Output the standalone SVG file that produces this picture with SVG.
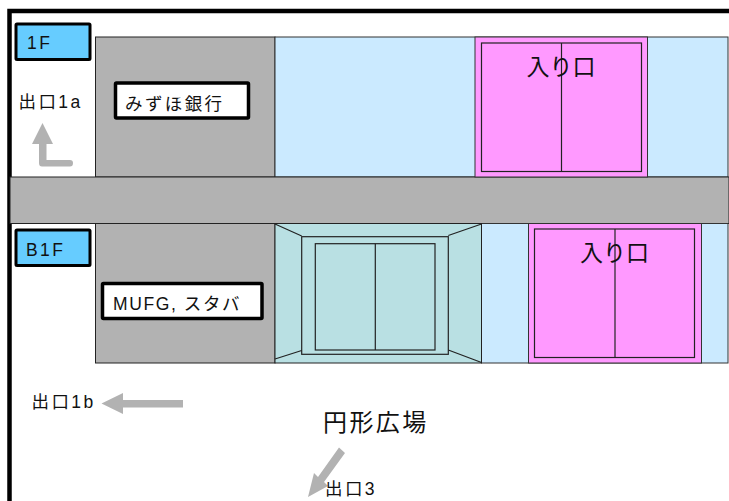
<svg xmlns="http://www.w3.org/2000/svg" width="729" height="501" viewBox="0 0 729 501">
<style>
text{font-family:"Liberation Sans","Noto Sans CJK JP",sans-serif;fill:#111}
.t14{font-size:17.500px;letter-spacing:2.400px}
.t23{font-size:23px}
.t24{font-size:24px;letter-spacing:2.400px}
.g{fill:#b2b2b2;stroke:#222;stroke-width:1}
.b{fill:#cbeaff;stroke:#333;stroke-width:1}
.p{fill:#ff99ff;stroke:#333;stroke-width:1}
.tl{fill:#b9e0e3;stroke:#222;stroke-width:1}
.lb{fill:none;stroke:#222;stroke-width:1.200}
.tag{fill:#66ccff;stroke:#000;stroke-width:3}
.lab{fill:#fff;stroke:#000;stroke-width:3.500}
.ar{fill:#b2b2b2;stroke:none}
</style>
<rect width="729" height="501" fill="#fff"/>
<path id="frame" d="M9.500 501V11H729" fill="none" stroke="#000" stroke-width="4.500"/>
<g id="floor-1f">
<rect class="g" x="95.500" y="37" width="179.500" height="140"/>
<rect class="b" x="275" y="37" width="453" height="140"/>
</g>
<rect id="road" class="g" x="10" y="177" width="719" height="46.500"/>
<g id="floor-b1f">
<rect class="g" x="95.500" y="223.500" width="179.500" height="139.500"/>
<rect class="b" x="481.500" y="223.500" width="246.500" height="139.500"/>
</g>
<g id="tag-1f"><rect class="tag" x="16" y="24" width="74" height="35.500" rx="1"/><text class="t14" x="27" y="49">1F</text></g>
<g id="tag-b1f"><rect class="tag" x="16" y="230" width="74" height="35.500" rx="1"/><text class="t14" x="26" y="256">B1F</text></g>
<g id="label-mizuho"><rect class="lab" x="115.500" y="83" width="133" height="35" rx="1"/><text class="t14" x="125" y="109.500">みずほ銀行</text></g>
<g id="label-mufg"><rect class="lab" x="102.500" y="283.500" width="159.500" height="35" rx="1"/><text class="t14" x="113" y="309.500" style="letter-spacing:1.600px">MUFG, スタバ</text></g>
<g id="entrance-1f">
<rect class="p" x="475" y="37" width="172.500" height="140"/>
<rect class="lb" x="481.500" y="43" width="160" height="128.500"/>
<path class="lb" d="M561.500 43V171.500"/>
<text class="t23" x="526.500" y="75">入り口</text>
</g>
<g id="entrance-b1f">
<rect class="p" x="528.500" y="223.500" width="173" height="139.500"/>
<rect class="lb" x="534.500" y="229" width="160" height="128.500"/>
<path class="lb" d="M615 229V357.500"/>
<text class="t23" x="580" y="261">入り口</text>
</g>
<g id="stairs">
<rect class="tl" x="275" y="223.500" width="206.500" height="139.500"/>
<rect class="lb" x="301.700" y="236.700" width="146.600" height="117.600"/>
<rect class="lb" x="315.300" y="243.700" width="119.700" height="106.300"/>
<path class="lb" d="M375.300 243.700V350M275 224L301.700 236M481.500 224L448.300 235.500M275 359L301.700 350.500M448.300 350L481.500 362.500"/>
</g>
<g id="connectors">
<path class="ar" d="M42.500 123L53 144H46.500V160H70Q73 160 73 163Q73 166.500 70 166.500H42Q39 166.500 39 163V144H32Z"/>
<path class="ar" d="M101.500 403.500L123 393V400H183V407.500H123V414Z"/>
<path class="ar" d="M339 447.500L345 453L324 482L328 486L308 497L314 473L318 477Z"/>
</g>
<g id="labels">
<text class="t14" x="18.500" y="108">出口1a</text>
<text class="t14" x="31.500" y="408">出口1b</text>
<text class="t24" x="323" y="431">円形広場</text>
<text class="t14" x="325" y="495">出口3</text>
</g>
</svg>
